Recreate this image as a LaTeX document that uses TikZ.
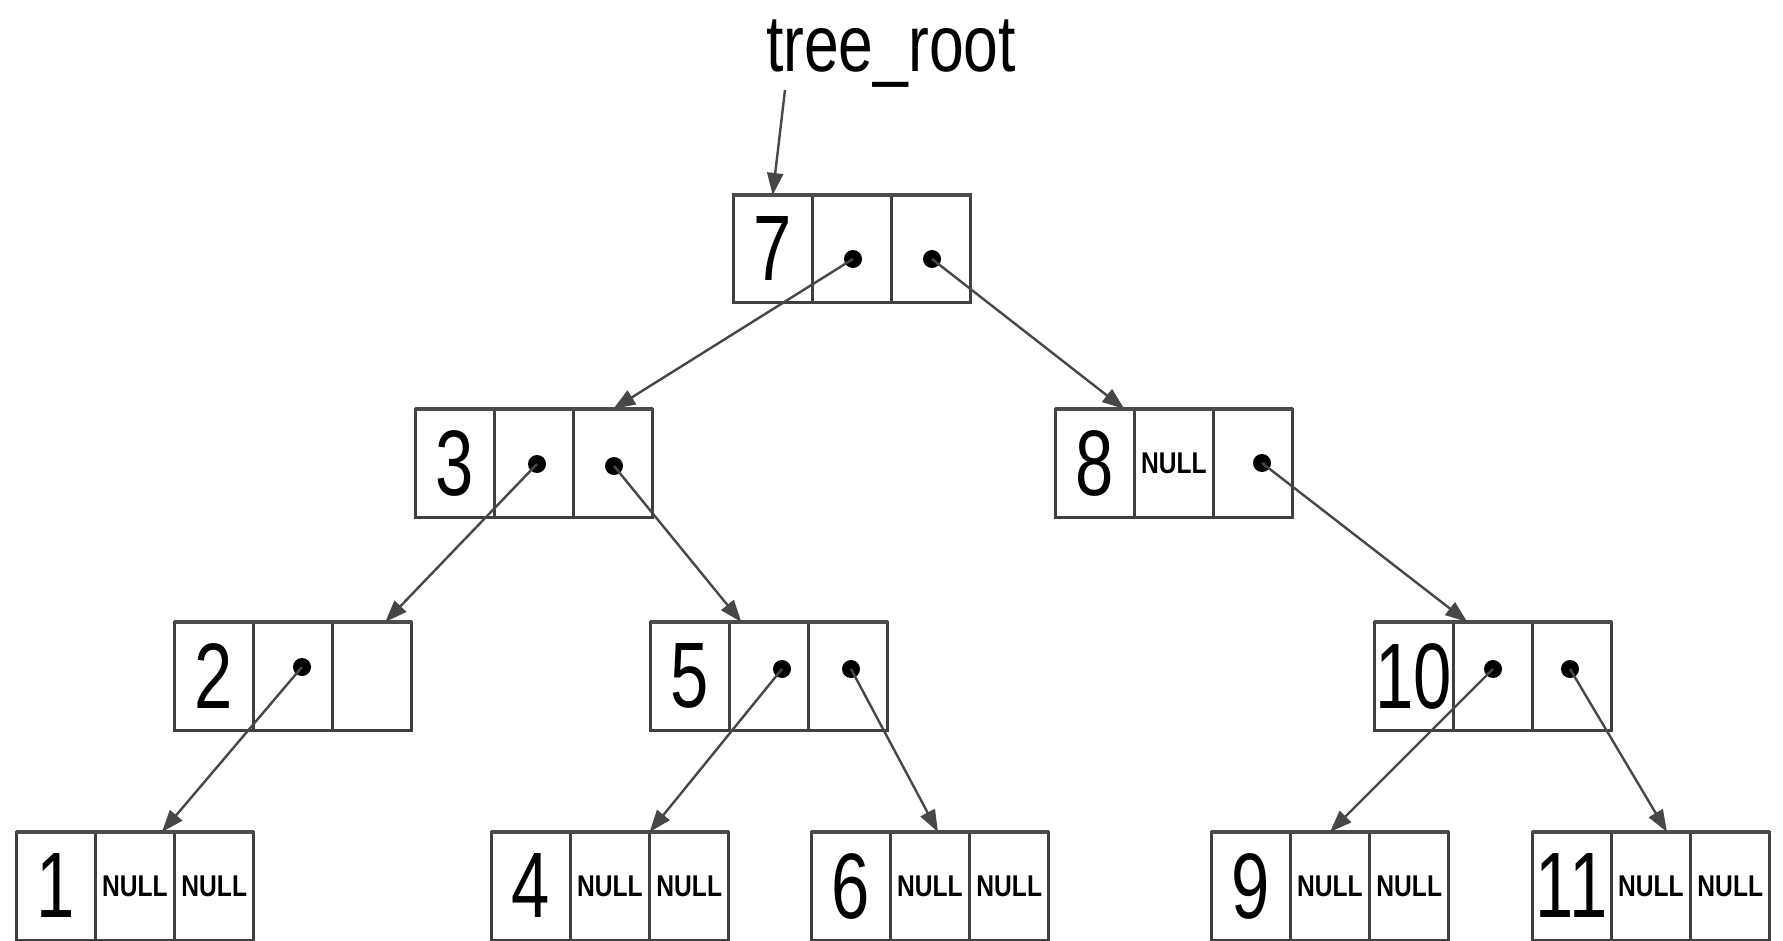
\documentclass[tikz,border=0pt]{standalone}
\usepackage{fontspec}
\setmainfont{Liberation Sans}
\usetikzlibrary{arrows.meta,calc}
\newcommand{\nrw}[2]{\scalebox{#1}[1]{#2}}
\newcommand{\nul}{{\fontsize{15}{15}\selectfont\bfseries\nrw{0.82}{NULL}}}
\tikzset{
  cell/.style={draw=black!75, line width=1.5pt, fill=white, minimum width=39.65pt,
    minimum height=54pt, inner sep=0pt, outer sep=0pt,
    font=\fontsize{46.5}{46.5}\selectfont},
  topbar/.style={draw=black!70, line width=2.4pt},
  dotn/.style={circle, fill=black, minimum size=9pt, inner sep=0pt},
  ptr/.style={draw=black!72, line width=1.2pt, -{Triangle[length=11pt,width=8pt]}},
  label/.style={font=\fontsize{40}{40}\selectfont, inner sep=0pt}
}
\newcommand{\tnode}[6]{%
  \node[cell,anchor=north west] (#1a) at (#2,#3) {\nrw{0.74}{#4}};
  \node[cell,anchor=north west] (#1b) at (#2+79.3,#3) {#5};
  \node[cell,anchor=north west] (#1c) at (#2+158.6,#3) {#6};
  \draw[topbar] (#1a.north west) -- (#1c.north east);}
\begin{document}
\begin{tikzpicture}[x=0.5pt,y=-0.5pt]
\useasboundingbox (0,0) rectangle (1783,941);
% label
\node[label,anchor=base] (root) at (891,72) {\nrw{0.78}{tree\_root}};
\coordinate (rs) at (785,90);
% tree nodes
\tnode{n7}{733}{195}{7}{}{}
\tnode{n3}{415}{409}{3}{}{}
\tnode{n8}{1055}{409}{8}{\nul}{}
\tnode{n2}{174}{622}{2}{}{}
\tnode{n5}{650}{622}{5}{}{}
\tnode{n10}{1374}{622}{10}{}{}
\tnode{n1}{16}{832}{1}{\nul}{\nul}
\tnode{n4}{491}{832}{4}{\nul}{\nul}
\tnode{n6}{811}{832}{6}{\nul}{\nul}
\tnode{n9}{1211}{832}{9}{\nul}{\nul}
\tnode{n11}{1532}{832}{11}{\nul}{\nul}
% pointer dots
\node[dotn] (d7l) at (853,259) {};
\node[dotn] (d7r) at (932,259) {};
\node[dotn] (d3l) at (537,464) {};
\node[dotn] (d3r) at (614,466) {};
\node[dotn] (d8r) at (1262,463) {};
\node[dotn] (d2l) at (302,667) {};
\node[dotn] (d5l) at (782,669) {};
\node[dotn] (d5r) at (851,669) {};
\node[dotn] (d10l) at (1493,669) {};
\node[dotn] (d10r) at (1570,669) {};
% connectors
\draw[ptr] (rs) -- (n7a.north);
\draw[ptr] (d7l.center) -- (n3c.north);
\draw[ptr] (d7r.center) -- ([xshift=-5pt]n8a.north east);
\draw[ptr] (d3l.center) -- ([xshift=6.5pt]n2c.north);
\draw[ptr] (d3r.center) -- ([xshift=6pt]n5b.north west);
\draw[ptr] (d2l.center) -- ([xshift=13.5pt]n1b.north);
\draw[ptr] (d5l.center) -- (n4b.north east);
\draw[ptr] (d5r.center) -- ([xshift=4pt]n6b.north);
\draw[ptr] (d8r.center) -- ([xshift=7pt]n10a.north east);
\draw[ptr] (d10l.center) -- (n9b.north);
\draw[ptr] (d10r.center) -- ([xshift=8pt]n11b.north);
\end{tikzpicture}
\end{document}
